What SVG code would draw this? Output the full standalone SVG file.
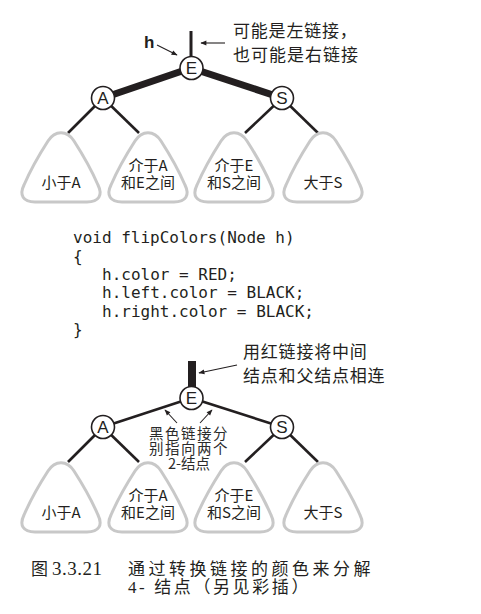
<svg xmlns="http://www.w3.org/2000/svg" width="481" height="614" viewBox="0 0 481 614">
<defs>
<marker id="ah" viewBox="0 0 10 10" refX="9" refY="5" markerWidth="7" markerHeight="6" orient="auto" markerUnits="userSpaceOnUse">
<path d="M0,1 L10,5 L0,9 Z" fill="#231f20"/>
</marker>
<path id="tri" d="M-26,71 L26,71 C38,71 42,64 37,54 C31,40 22,24 13,10 C6,-1 -6,-1 -13,10 C-22,24 -31,40 -37,54 C-42,64 -38,71 -26,71 Z"/>
</defs>
<style>
.sub{fill:#fff;stroke:#c8c8c8;stroke-width:3}
.edge{stroke:#231f20;stroke-width:2.6;fill:none}
.thick{stroke:#231f20;stroke-width:7;fill:none}
.arr{stroke:#231f20;stroke-width:1.1;fill:none;marker-end:url(#ah)}
.node circle{fill:#fff;stroke:#231f20;stroke-width:1.6}
.node text{font-family:"Liberation Sans",Arial,sans-serif;font-size:17px;fill:#231f20;text-anchor:middle}
.cjk{font-family:"Noto Sans CJK SC",sans-serif;fill:#231f20}
.lbl{font-family:"Noto Sans CJK SC",sans-serif;font-size:15px;fill:#231f20;text-anchor:middle}
.mid{font-family:"Noto Sans CJK SC",sans-serif;font-size:14.5px;fill:#2b2b2b;text-anchor:middle}
.code{font-family:"DejaVu Sans Mono",monospace;font-size:16px;fill:#231f20}
.cap{font-family:"Liberation Serif","Noto Sans CJK SC",serif;font-size:17px;fill:#231f20}
</style>

<!-- ===== Top diagram ===== -->
<g id="connectors-top">
<line class="thick" x1="191" y1="68" x2="103" y2="98"/>
<line class="thick" x1="191" y1="68" x2="282" y2="98"/>
<line x1="191" y1="31" x2="191" y2="58" stroke="#231f20" stroke-width="3"/>
<line class="edge" x1="103" y1="98" x2="68" y2="133"/>
<line class="edge" x1="103" y1="98" x2="139" y2="133"/>
<line class="edge" x1="282" y1="98" x2="245" y2="133"/>
<line class="edge" x1="282" y1="98" x2="318" y2="133"/>
<line class="arr" x1="225" y1="43" x2="201" y2="43"/>
<line class="arr" x1="157" y1="45" x2="177" y2="55"/>
</g>
<g id="t-sub1"><use href="#tri" class="sub" x="61" y="131"/><text class="lbl" x="61" y="188">小于A</text></g>
<g id="t-sub2"><use href="#tri" class="sub" x="148" y="131"/><text class="lbl" x="148" y="170.5">介于A</text><text class="lbl" x="148" y="188">和E之间</text></g>
<g id="t-sub3"><use href="#tri" class="sub" x="234" y="131"/><text class="lbl" x="234" y="170.5">介于E</text><text class="lbl" x="234" y="188">和S之间</text></g>
<g id="t-sub4"><use href="#tri" class="sub" x="323" y="131"/><text class="lbl" x="323" y="188">大于S</text></g>
<g id="t-E" class="node"><circle cx="191.5" cy="68" r="11.5"/><text x="191.5" y="74">E</text></g>
<g id="t-A" class="node"><circle cx="103" cy="98" r="11.5"/><text x="103" y="104">A</text></g>
<g id="t-S" class="node"><circle cx="282" cy="98" r="11.5"/><text x="282" y="104">S</text></g>
<g id="t-h"><text x="144" y="48" font-family="Liberation Sans,Arial,sans-serif" font-weight="bold" font-size="17" fill="#231f20">h</text></g>
<g id="t-note"><text class="cjk" font-size="17" letter-spacing="0.8" x="233" y="37">可能是左链接，</text><text class="cjk" font-size="17" letter-spacing="1" x="233" y="61">也可能是右链接</text></g>

<!-- ===== Code ===== -->
<g id="code">
<text class="code" x="73" y="243">void flipColors(Node h)</text>
<text class="code" x="73" y="261.5">{</text>
<text class="code" x="102" y="280">h.color = RED;</text>
<text class="code" x="102" y="298">h.left.color = BLACK;</text>
<text class="code" x="102" y="316.5">h.right.color = BLACK;</text>
<text class="code" x="73" y="335">}</text>
</g>

<!-- ===== Bottom diagram ===== -->
<g id="connectors-bottom">
<line class="edge" x1="191.5" y1="398" x2="103" y2="427"/>
<line class="edge" x1="191.5" y1="398" x2="282" y2="427"/>
<rect x="188" y="361" width="8" height="28" fill="#231f20"/>
<line class="edge" x1="103" y1="427" x2="68" y2="462"/>
<line class="edge" x1="103" y1="427" x2="139" y2="462"/>
<line class="edge" x1="282" y1="427" x2="245" y2="462"/>
<line class="edge" x1="282" y1="427" x2="318" y2="462"/>
<line class="arr" x1="237" y1="365" x2="199" y2="373"/>
<line class="arr" x1="177" y1="423" x2="165" y2="410"/>
<line class="arr" x1="200" y1="423" x2="212" y2="410"/>
</g>
<g id="b-sub1"><use href="#tri" class="sub" x="61" y="461"/><text class="lbl" x="61" y="518">小于A</text></g>
<g id="b-sub2"><use href="#tri" class="sub" x="148" y="461"/><text class="lbl" x="148" y="500.5">介于A</text><text class="lbl" x="148" y="518">和E之间</text></g>
<g id="b-sub3"><use href="#tri" class="sub" x="234" y="461"/><text class="lbl" x="234" y="500.5">介于E</text><text class="lbl" x="234" y="518">和S之间</text></g>
<g id="b-sub4"><use href="#tri" class="sub" x="323" y="461"/><text class="lbl" x="323" y="518">大于S</text></g>
<g id="b-E" class="node"><circle cx="191.5" cy="398" r="11.5"/><text x="191.5" y="404">E</text></g>
<g id="b-A" class="node"><circle cx="103" cy="427" r="11.5"/><text x="103" y="433">A</text></g>
<g id="b-S" class="node"><circle cx="282" cy="427" r="11.5"/><text x="282" y="433">S</text></g>
<g id="b-note"><text class="cjk" font-size="17" letter-spacing="0.8" x="243" y="358">用红链接将中间</text><text class="cjk" font-size="17" letter-spacing="0.8" x="243" y="382">结点和父结点相连</text></g>
<g id="b-mid"><text class="mid" x="189" y="438.5" letter-spacing="1.5">黑色链接分</text><text class="mid" x="189" y="454" letter-spacing="1.5">别指向两个</text><text class="mid" x="189" y="469">2-结点</text></g>

<!-- ===== Caption ===== -->
<g id="caption">
<text class="cap" x="31" y="575">图</text>
<text class="cap" x="52" y="575" style="font-size:19px" letter-spacing="0.5">3.3.21</text>
<text class="cap" x="128" y="575" letter-spacing="3.5">通过转换链接的颜色来分解</text>
<text class="cap" x="128" y="593" letter-spacing="2.6">4- 结点（另见彩插）</text>
</g>
</svg>
